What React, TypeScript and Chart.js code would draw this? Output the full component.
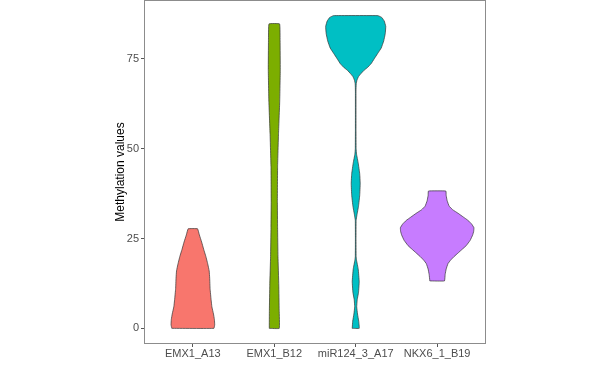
import React, { useEffect, useRef } from "react";
import { Chart, registerables } from "chart.js";

Chart.register(...registerables);

// Categories (violin positions 1..4 on the x axis)
const categories = ["EMX1_A13", "EMX1_B12", "miR124_3_A17", "NKX6_1_B19"];
const fillColors = ["#F8766D", "#7CAE00", "#00BFC4", "#C77CFF"];
const yTicks = [0, 25, 50, 75];

// Violin profiles: methylation value (y) and relative kernel density (half-width)
const a13Values = [0, 1, 2.5, 4, 6, 8, 11, 14, 16, 18, 20, 22, 24, 26, 27.7];
const a13Density = [21, 21.8, 21.5, 20.6, 19, 18.2, 17.2, 16.8, 16.3, 14.8, 13, 10.8, 8.8, 6.5, 4.7];

const b12Values = [0, 5, 12, 20, 28, 35, 45, 54, 63, 72, 80, 84.7];
const b12Density = [5, 4.9, 4.5, 3.7, 3.3, 3.1, 3.3, 4.2, 5.4, 6, 5.8, 5.3];

const mirValues = [0, 2, 4, 6, 8, 10, 13, 16.5, 19, 20, 25, 30, 31.5, 34, 37, 40.3, 43, 46, 48.5, 50, 55, 66, 68, 69, 70, 70.8, 71.8, 72.5, 73.6, 75, 76.5, 78, 80, 82, 84, 85.5, 86.5, 87];
const mirDensity = [3.5, 3, 1.8, 1, 1.5, 2.8, 3.5, 2.5, 0.8, 0.4, 0.3, 0.4, 1.2, 2.8, 4, 4.5, 4, 2.5, 0.8, 0.4, 0.3, 0.3, 0.5, 1.2, 2.7, 5, 8.3, 11.5, 15.3, 18.5, 22, 25.5, 28, 29.5, 30, 28.5, 26, 22.2];

const nkxValues = [13.2, 15, 16.5, 18, 19, 20, 21, 22, 23, 24.5, 26, 27, 28, 29, 30, 31, 32, 33, 34, 35.5, 37, 38.2];
const nkxDensity = [7.3, 8, 9, 10.8, 13.5, 17, 21, 25, 29, 33, 35.5, 36.5, 36.7, 34.5, 31, 26, 21, 15.5, 12, 10, 9, 8.7];

const violinValues = [a13Values, b12Values, mirValues, nkxValues];
const violinDensity = [a13Density, b12Density, mirDensity, nkxDensity];
const DENSITY_SCALE = 1 / 81.3;

function violinPolygon(center: number, values: number[], density: number[]) {
  const pts: { x: number; y: number }[] = [];
  for (let i = 0; i < values.length; i++) pts.push({ x: center - density[i] * DENSITY_SCALE, y: values[i] });
  for (let i = values.length - 1; i >= 0; i--) pts.push({ x: center + density[i] * DENSITY_SCALE, y: values[i] });
  pts.push(pts[0]);
  return pts;
}

const panelBorder = {
  id: "panelBorder",
  afterDraw(chart: any) {
    const { ctx, chartArea } = chart;
    ctx.save();
    ctx.strokeStyle = "#8c8c8c";
    ctx.lineWidth = 1;
    ctx.strokeRect(chartArea.left + 0.5, chartArea.top + 0.5, chartArea.right - chartArea.left - 1, chartArea.bottom - chartArea.top - 1);
    ctx.restore();
  },
};

export default function App() {
  const ref = useRef<HTMLCanvasElement>(null);
  useEffect(() => {
    if (!ref.current) return;
    const datasets = categories.map((c, i) => ({
      label: c,
      data: violinPolygon(i + 1, violinValues[i], violinDensity[i]),
      backgroundColor: fillColors[i],
      borderColor: "#333333",
      borderWidth: 0.7,
      pointRadius: 0,
      pointHoverRadius: 0,
      tension: 0.08,
      fill: "shape",
      borderJoinStyle: "round",
    }));
    const chart = new Chart(ref.current, {
      type: "line",
      data: { datasets: datasets as any },
      plugins: [panelBorder],
      options: {
        responsive: false,
        animation: false,
        events: [],
        layout: { padding: { left: 0, right: 114, top: 0, bottom: 0 } },
        plugins: { legend: { display: false }, tooltip: { enabled: false } },
        scales: {
          x: {
            type: "linear",
            min: 0.4,
            max: 4.6,
            afterBuildTicks: (scale: any) => {
              scale.ticks = categories.map((_, i) => ({ value: i + 1 }));
            },
            afterFit: (scale: any) => {
              scale.height = 27;
              scale.paddingLeft = 0;
              scale.paddingRight = 0;
            },
            grid: { display: true, drawOnChartArea: false, drawTicks: true, tickLength: 3, color: "#555" },
            border: { display: false },
            ticks: {
              autoSkip: false,
              maxRotation: 0,
              padding: 0,
              color: "#4d4d4d",
              font: { family: "'Liberation Sans', Arial, sans-serif", size: 11 },
              callback: (v: any) => categories[Math.round(Number(v)) - 1] ?? "",
            },
          },
          y: {
            type: "linear",
            min: -4.35,
            max: 91.35,
            afterBuildTicks: (scale: any) => {
              scale.ticks = yTicks.map((v) => ({ value: v }));
            },
            afterFit: (scale: any) => {
              scale.width = 144;
              scale.paddingTop = 0;
              scale.paddingBottom = 0;
            },
            grid: { display: true, drawOnChartArea: false, drawTicks: true, tickLength: 3, color: "#555" },
            border: { display: false },
            ticks: {
              padding: 2,
              color: "#4d4d4d",
              font: { family: "'Liberation Sans', Arial, sans-serif", size: 11 },
            },
            title: {
              display: true,
              text: "Methylation values",
              color: "#000",
              padding: { top: 113.8, bottom: 0 },
              font: { family: "'Liberation Sans', Arial, sans-serif", size: 12 },
            },
          },
        },
      },
    });
    return () => chart.destroy();
  }, []);
  return (
    <div style={{ position: "fixed", left: 0, top: 0, width: 600, height: 371, background: "#fff" }}>
      <canvas ref={ref} width={600} height={371} />
    </div>
  );
}
